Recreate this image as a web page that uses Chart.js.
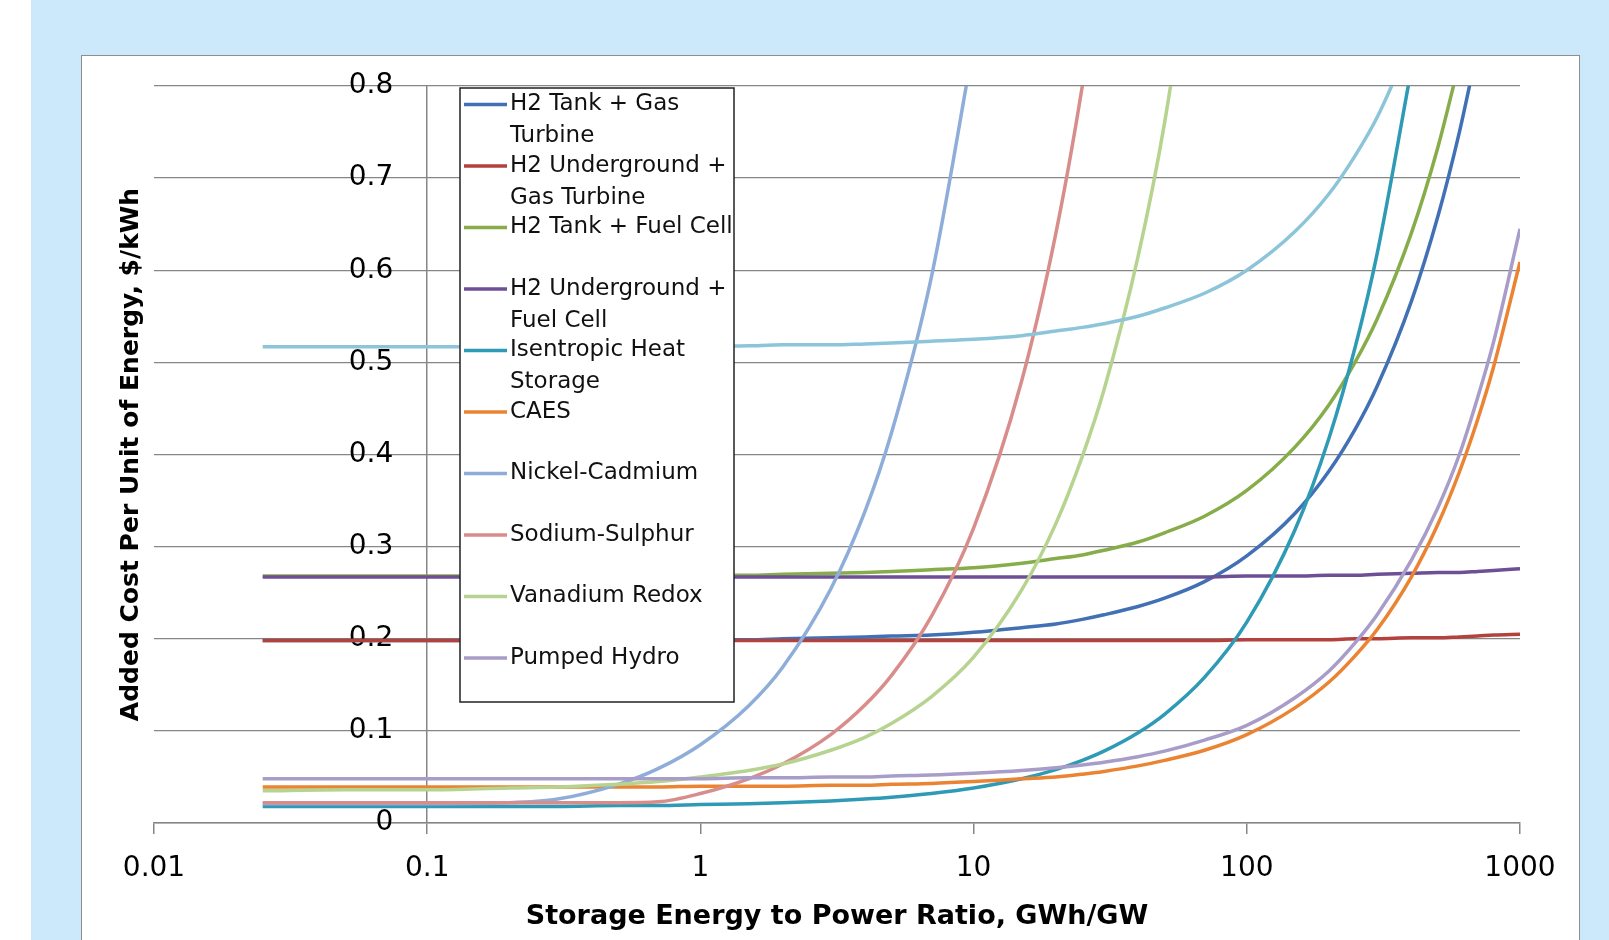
<!DOCTYPE html>
<html lang="en">
<head>
  <meta charset="UTF-8">
  <title>Added Cost Per Unit of Energy</title>
  <script src="https://cdn.jsdelivr.net/npm/chart.js"></script>
  <style>
    html, body { margin: 0; padding: 0; background: #fff; overflow: hidden; }
    .backdrop { position: absolute; left: 31px; top: 0; width: 1578px; height: 940px; background: #cce9fb; }
    .card { position: absolute; left: 81px; top: 55px; width: 1497px; height: 900px; background: #fff; border: 1.5px solid #8e8e8e; }
    .plot { position: absolute; left: 82px; top: 56px; width: 1498px; height: 884px; }
  </style>
</head>
<body>
  <div class="backdrop"></div>
  <div class="card"></div>
  <div class="plot"><canvas id="costChart"></canvas></div>

  <script>
    // storage energy to power ratio, GWh/GW (shared x values)
    const ratio = [0.025, 0.05, 0.1, 0.2, 0.3, 0.5, 0.7, 1, 1.5, 2, 3, 4, 5, 7, 10, 15, 20, 25, 30, 40, 50, 70, 100, 150, 200, 250, 300, 400, 500, 600, 700, 800, 1000];

    // added cost, $/kWh
    const h2TankGasTurbine = [0.198, 0.198, 0.198, 0.198, 0.198, 0.198, 0.199, 0.199, 0.199, 0.200, 0.201, 0.202, 0.203, 0.204, 0.207, 0.212, 0.216, 0.221, 0.226, 0.235, 0.244, 0.262, 0.290, 0.336, 0.382, 0.428, 0.474, 0.566, 0.658, 0.750, 0.842, null, null];
    const h2UndergroundGasTurbine = [0.198, 0.198, 0.198, 0.198, 0.198, 0.198, 0.198, 0.198, 0.198, 0.198, 0.198, 0.198, 0.198, 0.198, 0.198, 0.198, 0.198, 0.198, 0.198, 0.198, 0.198, 0.198, 0.199, 0.199, 0.199, 0.200, 0.200, 0.201, 0.201, 0.202, 0.203, 0.204, 0.205];
    const h2TankFuelCell = [0.268, 0.268, 0.268, 0.268, 0.268, 0.268, 0.268, 0.269, 0.269, 0.270, 0.271, 0.272, 0.273, 0.275, 0.277, 0.282, 0.287, 0.291, 0.296, 0.305, 0.315, 0.333, 0.361, 0.408, 0.454, 0.501, 0.547, 0.640, 0.733, 0.826, null, null, null];
    const h2UndergroundFuelCell = [0.267, 0.267, 0.267, 0.267, 0.267, 0.267, 0.267, 0.267, 0.267, 0.267, 0.267, 0.267, 0.267, 0.267, 0.267, 0.267, 0.267, 0.267, 0.267, 0.267, 0.267, 0.267, 0.268, 0.268, 0.269, 0.269, 0.270, 0.271, 0.272, 0.272, 0.273, 0.274, 0.276];
    const isentropicHeat = [0.018, 0.018, 0.018, 0.018, 0.018, 0.019, 0.019, 0.020, 0.021, 0.022, 0.024, 0.026, 0.028, 0.032, 0.038, 0.048, 0.058, 0.068, 0.078, 0.098, 0.118, 0.158, 0.218, 0.318, 0.418, 0.518, 0.618, 0.818, null, null, null, null, null];
    const caes = [0.039, 0.039, 0.039, 0.039, 0.039, 0.039, 0.039, 0.040, 0.040, 0.040, 0.041, 0.041, 0.042, 0.043, 0.045, 0.048, 0.050, 0.053, 0.056, 0.062, 0.068, 0.079, 0.096, 0.125, 0.153, 0.182, 0.210, 0.267, 0.324, 0.381, 0.438, 0.495, 0.609];
    const nickelCadmium = [0.021, 0.021, 0.021, 0.022, 0.026, 0.042, 0.059, 0.085, 0.127, 0.169, 0.254, 0.338, 0.423, 0.592, 0.845, null, null, null, null, null, null, null, null, null, null, null, null, null, null, null, null, null, null];
    const sodiumSulphur = [0.022, 0.022, 0.022, 0.022, 0.022, 0.022, 0.023, 0.032, 0.048, 0.064, 0.096, 0.128, 0.160, 0.224, 0.320, 0.480, 0.640, 0.800, 0.960, null, null, null, null, null, null, null, null, null, null, null, null, null, null];
    const vanadiumRedox = [0.035, 0.036, 0.036, 0.038, 0.039, 0.042, 0.045, 0.050, 0.057, 0.064, 0.079, 0.093, 0.108, 0.137, 0.180, 0.253, 0.325, 0.398, 0.470, 0.615, 0.760, 1.050, null, null, null, null, null, null, null, null, null, null, null];
    const pumpedHydro = [0.048, 0.048, 0.048, 0.048, 0.048, 0.048, 0.048, 0.048, 0.049, 0.049, 0.050, 0.050, 0.051, 0.052, 0.054, 0.057, 0.060, 0.063, 0.066, 0.072, 0.078, 0.090, 0.106, 0.136, 0.165, 0.196, 0.226, 0.285, 0.342, 0.400, 0.462, 0.522, 0.645];
    // eleventh curve, not listed in the legend box
    const series11 = [0.517, 0.517, 0.517, 0.517, 0.517, 0.517, 0.517, 0.517, 0.518, 0.519, 0.519, 0.520, 0.521, 0.523, 0.525, 0.529, 0.534, 0.538, 0.542, 0.550, 0.559, 0.575, 0.600, 0.642, 0.683, 0.725, 0.766, 0.849, null, null, null, null, null];

    const seriesNames = ['H2 Tank + Gas Turbine', 'H2 Underground + Gas Turbine', 'H2 Tank + Fuel Cell', 'H2 Underground + Fuel Cell', 'Isentropic Heat Storage', 'CAES', 'Nickel-Cadmium', 'Sodium-Sulphur', 'Vanadium Redox', 'Pumped Hydro', 'Series 11'];
    const seriesValues = [h2TankGasTurbine, h2UndergroundGasTurbine, h2TankFuelCell, h2UndergroundFuelCell, isentropicHeat, caes, nickelCadmium, sodiumSulphur, vanadiumRedox, pumpedHydro, series11];
    const seriesColors = ['#4270b4', '#b3413e', '#86ad49', '#6d4f95', '#2e9ab5', '#ea8432', '#8eadd9', '#d98d8b', '#b6d38f', '#a89cc8', '#8cc5da'];

    const ratioTicks = [0.01, 0.1, 1, 10, 100, 1000];
    const ratioTickLabels = ['0.01', '0.1', '1', '10', '100', '1000'];
    const costTicks = [0, 0.1, 0.2, 0.3, 0.4, 0.5, 0.6, 0.7, 0.8];
    const costTickLabels = ['0', '0.1', '0.2', '0.3', '0.4', '0.5', '0.6', '0.7', '0.8'];

    const FONT = 'DejaVu Sans';
    const GRID = '#868686';
    const Y_CROSS = 0.1;                                  // the value axis crosses at 0.1
    const Y_LABEL_AT = Y_CROSS / Math.pow(10, 34 / 273.2); // labels end ~34px left of it

    function wrapWords(ctx, text, maxWidth) {
      const words = text.split(' ');
      const lines = [];
      let line = '';
      words.forEach(w => {
        const test = line ? line + ' ' + w : w;
        if (line && ctx.measureText(test).width > maxWidth) {
          lines.push(line);
          line = w;
        } else {
          line = test;
        }
      });
      lines.push(line);
      return lines;
    }

    // legend box drawn like the spreadsheet one: fixed slots, wrapped names
    const legendBox = {
      id: 'legendBox',
      afterDatasetsDraw(chart) {
        const { ctx, chartArea } = chart;
        const left = chartArea.left + 306;
        const top = chartArea.top + 2;
        const width = 274, height = 614;
        ctx.save();
        ctx.fillStyle = '#fff';
        ctx.fillRect(left, top, width, height);
        ctx.strokeStyle = '#222';
        ctx.lineWidth = 1.5;
        ctx.strokeRect(left, top, width, height);
        ctx.font = '23px "' + FONT + '"';
        ctx.textBaseline = 'middle';
        let slot = 0;
        chart.data.datasets.forEach(ds => {
          if (ds.inLegend === false) return;
          const y = top + 16.5 + slot * 61.5;
          ctx.strokeStyle = ds.borderColor;
          ctx.lineWidth = 3.5;
          ctx.beginPath();
          ctx.moveTo(left + 4, y);
          ctx.lineTo(left + 47, y);
          ctx.stroke();
          ctx.fillStyle = '#111';
          wrapWords(ctx, ds.label, 240).forEach((line, j) => ctx.fillText(line, left + 50, y + j * 32));
          slot++;
        });
        ctx.restore();
      }
    };

    const datasets = seriesNames.map((name, i) => ({
      label: name,
      data: ratio.map((r, k) => ({ x: r, y: seriesValues[i][k] })),
      borderColor: seriesColors[i],
      backgroundColor: seriesColors[i],
      borderWidth: 3.5,
      pointRadius: 0,
      cubicInterpolationMode: 'monotone',
      spanGaps: false,
      order: seriesNames.length - i,
      inLegend: i < 10,
      yAxisID: 'y'
    }));

    Chart.defaults.font.family = FONT;
    Chart.defaults.color = '#000';

    new Chart(document.getElementById('costChart'), {
      type: 'line',
      data: { datasets },
      options: {
        responsive: true,
        maintainAspectRatio: false,
        animation: false,
        events: [],
        layout: { padding: { left: 34, top: 30, right: 60, bottom: 0 } },
        plugins: { legend: { display: false }, tooltip: { enabled: false } },
        scales: {
          x: {
            type: 'logarithmic',
            min: 0.01,
            max: 1000,
            afterBuildTicks: s => { s.ticks = ratioTicks.map(v => ({ value: v })); },
            afterFit: s => { s.paddingLeft = 0; s.paddingRight = 0; s.height = 117; },
            ticks: {
              callback: (v, i) => ratioTickLabels[i],
              font: { size: 28 },
              color: '#000',
              padding: 18,
              maxRotation: 0,
              autoSkip: false
            },
            grid: {
              color: c => (c.tick && c.tick.value === Y_CROSS ? GRID : 'rgba(0,0,0,0)'),
              tickColor: GRID,
              tickLength: 11,
              lineWidth: 1.5
            },
            border: { color: GRID, width: 1.5 },
            title: {
              display: true,
              text: 'Storage Energy to Power Ratio, GWh/GW',
              font: { size: 27, weight: 'bold' },
              color: '#000',
              padding: { top: 16, bottom: 7 }
            }
          },
          y: {
            type: 'linear',
            position: { x: Y_LABEL_AT },
            min: 0,
            max: 0.8,
            afterBuildTicks: s => { s.ticks = costTicks.map(v => ({ value: v })); },
            afterFit: s => { s.paddingTop = 0; s.paddingBottom = 0; },
            ticks: {
              callback: (v, i) => costTickLabels[i],
              font: { size: 28 },
              color: '#000',
              padding: 0
            },
            grid: { color: GRID, lineWidth: 1.3, drawTicks: false },
            border: { display: false }
          },
          yTitle: {
            type: 'linear',
            position: 'left',
            afterFit: s => { s.width = 38; },
            ticks: { display: false },
            grid: { display: false },
            border: { display: false },
            title: {
              display: true,
              text: 'Added Cost Per Unit of Energy, $/kWh',
              font: { size: 25, weight: 'bold' },
              color: '#000',
              padding: { top: 0, bottom: 8 }
            }
          }
        }
      },
      plugins: [legendBox]
    });
  </script>
</body>
</html>
